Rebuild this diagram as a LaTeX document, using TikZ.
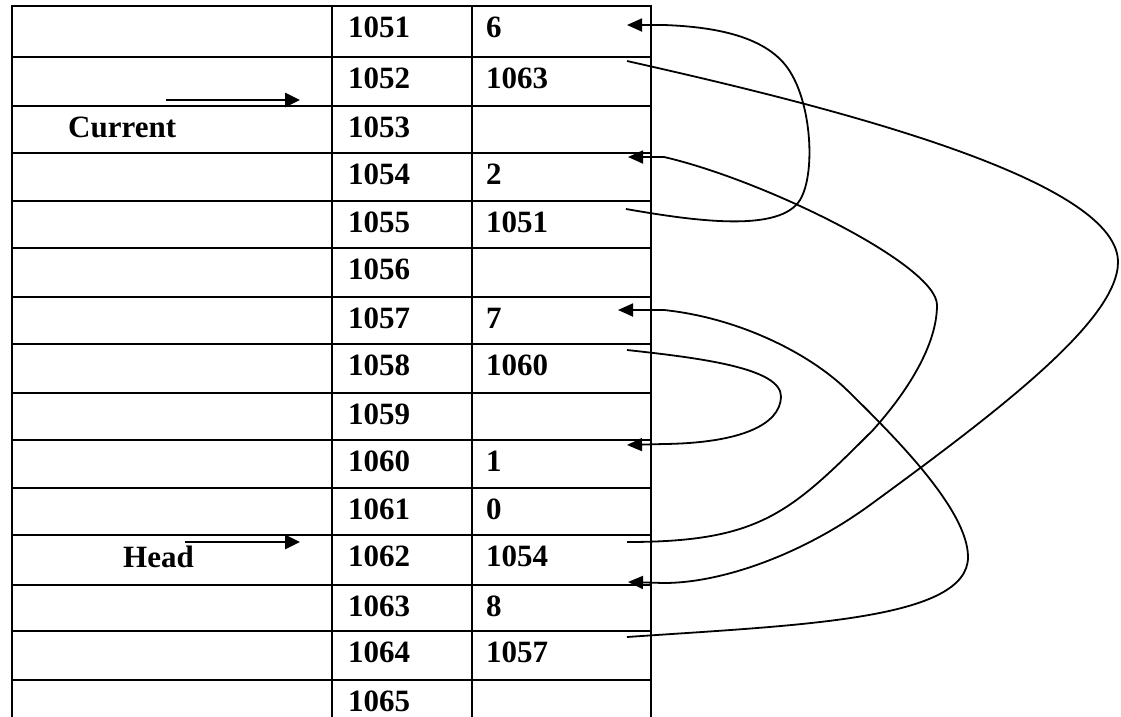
\documentclass[tikz,border=0pt]{standalone}
\usepackage{fontspec}
\setmainfont{Liberation Serif}
\usetikzlibrary{arrows.meta}
\begin{document}
\begin{tikzpicture}[x=1pt,y=-1pt,
  grid/.style={line width=2.9pt,line cap=rect},
  lbl/.style={anchor=base west,inner sep=0pt,font=\fontsize{31}{36}\selectfont\bfseries},
  link/.style={line width=1.8pt,-{Triangle[length=15pt,width=13pt]}},
  ptr/.style={line width=2.6pt,-{Triangle[length=15pt,width=14pt]}}]
\useasboundingbox[fill=white] (0,0) rectangle (1121,716);
% table
\foreach \y in {6,57,106,153,201,248,297,344,393,440,488,535,585,631,680}
  \draw[grid] (12,\y) -- (651,\y);
\foreach \x in {12,332,472,651}
  \draw[grid] (\x,6) -- (\x,716);
% addresses
\foreach \t/\a in {6/1051,57/1052,106/1053,153/1054,201/1055,248/1056,297/1057,344/1058,393/1059,440/1060,488/1061,535/1062,585/1063,631/1064,680/1065}
  \node[lbl] (a\a) at (348,\t+31) {\a};
% values
\foreach \t/\a/\v in {6/1051/6,57/1052/1063,153/1054/2,201/1055/1051,297/1057/7,344/1058/1060,440/1060/1,488/1061/0,535/1062/1054,585/1063/8,631/1064/1057}
  \node[lbl] (v\a) at (486,\t+31) {\v};
% labels and pointers
\node[lbl] (cur) at (68,137) {Current};
\coordinate (curS) at (166,100);
\coordinate (curE) at (300,100);
\draw[ptr] (curS) -- (curE);
\node[lbl] (head) at (123,567) {Head};
\coordinate (headS) at (185,542);
\coordinate (headE) at (300,542);
\draw[ptr] (headS) -- (headE);
% link end points
\coordinate (s1055) at (626,209);
\coordinate (e1051) at (664,25);
\coordinate (t1051) at (627,25);
\coordinate (s1052) at (627,61);
\coordinate (e1063) at (664,583);
\coordinate (t1063) at (628,582);
\coordinate (s1062) at (627,542);
\coordinate (e1054) at (664,157);
\coordinate (t1054) at (628,157);
\coordinate (s1058) at (627,350);
\coordinate (e1060) at (664,444);
\coordinate (t1060) at (627,445);
\coordinate (s1064) at (627,637);
\coordinate (e1057) at (664,310);
\coordinate (t1057) at (618,310);
% links
\draw[link] (s1055) .. controls (700,222) and (780,232) .. (800,200)
  .. controls (815,175) and (812,110) .. (792,75)
  .. controls (772,38) and (720,27) .. (e1051) -- (t1051);
\draw[link] (s1052) .. controls (800,100) and (1118,175) .. (1118,262)
  .. controls (1118,320) and (1000,410) .. (870,505)
  .. controls (800,556) and (720,583) .. (e1063) -- (t1063);
\draw[link] (s1062) .. controls (760,542) and (790,513) .. (873,430)
  .. controls (900,400) and (937,350) .. (937,305)
  .. controls (937,265) and (764,180) .. (e1054) -- (t1054);
\draw[link] (s1058) .. controls (700,358) and (782,368) .. (781,397)
  .. controls (780,425) and (740,443) .. (e1060) -- (t1060);
\draw[link] (s1064) .. controls (800,625) and (968,620) .. (968,557)
  .. controls (968,510) and (895,437) .. (847,390)
  .. controls (810,354) and (740,318) .. (e1057) -- (t1057);
\end{tikzpicture}
\end{document}
